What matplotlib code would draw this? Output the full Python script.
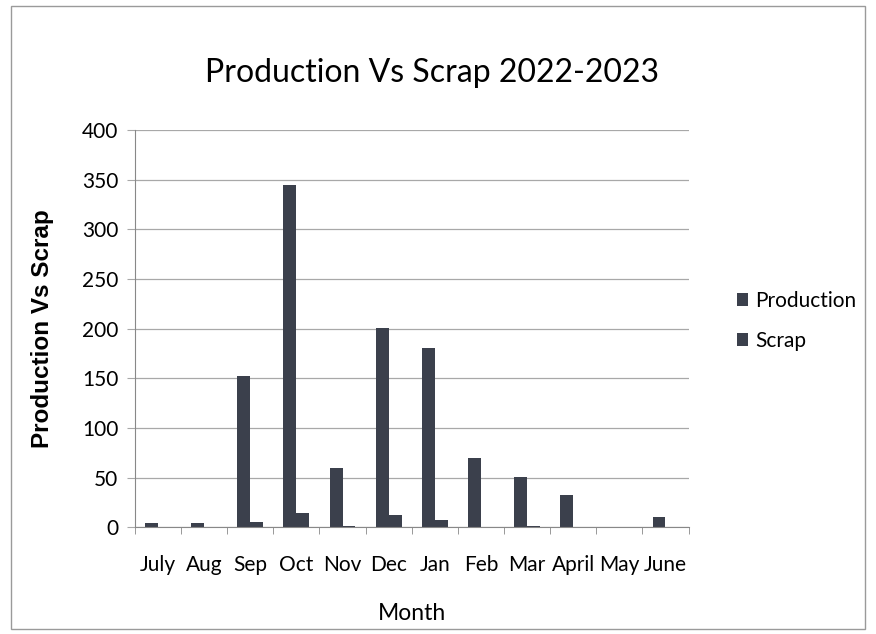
import numpy as np
import matplotlib
matplotlib.use("Agg")
import matplotlib.pyplot as plt
from matplotlib.patches import Rectangle

months = ["July", "Aug", "Sep", "Oct", "Nov", "Dec", "Jan", "Feb", "Mar", "April", "May", "June"]
production = [5, 5, 152, 345, 60, 201, 181, 70, 51, 33, 0, 11]
scrap = [0, 0, 6, 15, 2, 13, 8, 0, 1, 0, 0, 0]

bar_color = "#3b404c"
font = "Lato"

fig = plt.figure(figsize=(8.76, 6.34), dpi=100)
fig.patch.set_facecolor("white")
fig.patches.append(Rectangle((0.012, 0.008), 0.976, 0.982, transform=fig.transFigure,
                             fill=False, edgecolor="#9a9a9a", linewidth=1))

ax = fig.add_axes([0.154, 0.168, 0.632, 0.627])
x = np.arange(len(months))
w = 0.28
ax.bar(x - w / 2, production, w, color=bar_color, label="Production")
ax.bar(x + w / 2, scrap, w, color=bar_color, label="Scrap")

ax.set_xlim(-0.5, len(months) - 0.5)
ax.set_ylim(0, 400)
ax.set_yticks(range(0, 401, 50))
ax.yaxis.grid(True, color="#a8a8a8", linewidth=0.9)
ax.set_axisbelow(True)
ax.set_xticks(x)
ax.set_xticklabels(months, fontfamily=font, fontsize=15)
ax.set_xticks(np.arange(-0.5, len(months)), minor=True)
ax.tick_params(axis="x", which="major", length=0, pad=20)
ax.tick_params(axis="x", which="minor", length=5, color="#888888")
ax.tick_params(axis="y", length=6, color="#a8a8a8", labelsize=15, pad=6)
for lbl in ax.get_yticklabels():
    lbl.set_fontfamily(font)
for s in ["top", "right"]:
    ax.spines[s].set_visible(False)
for s in ["left", "bottom"]:
    ax.spines[s].set_color("#888888")

ax.set_xlabel("Month", fontfamily=font, fontsize=16.5, labelpad=20)
ax.set_ylabel("Production Vs Scrap", fontfamily="Liberation Sans", fontweight="bold",
              fontsize=17.5, labelpad=20)
fig.text(0.493, 0.885, "Production Vs Scrap 2022-2023", fontfamily=font, fontsize=23,
         ha="center", va="center")

leg = ax.legend(loc="center left", bbox_to_anchor=(1.053, 0.52), frameon=False,
                prop={"family": font, "size": 15}, handlelength=0.55, handleheight=0.55,
                handletextpad=0.35, labelspacing=0.95)

fig.savefig("out.png", dpi=100, facecolor="white")
